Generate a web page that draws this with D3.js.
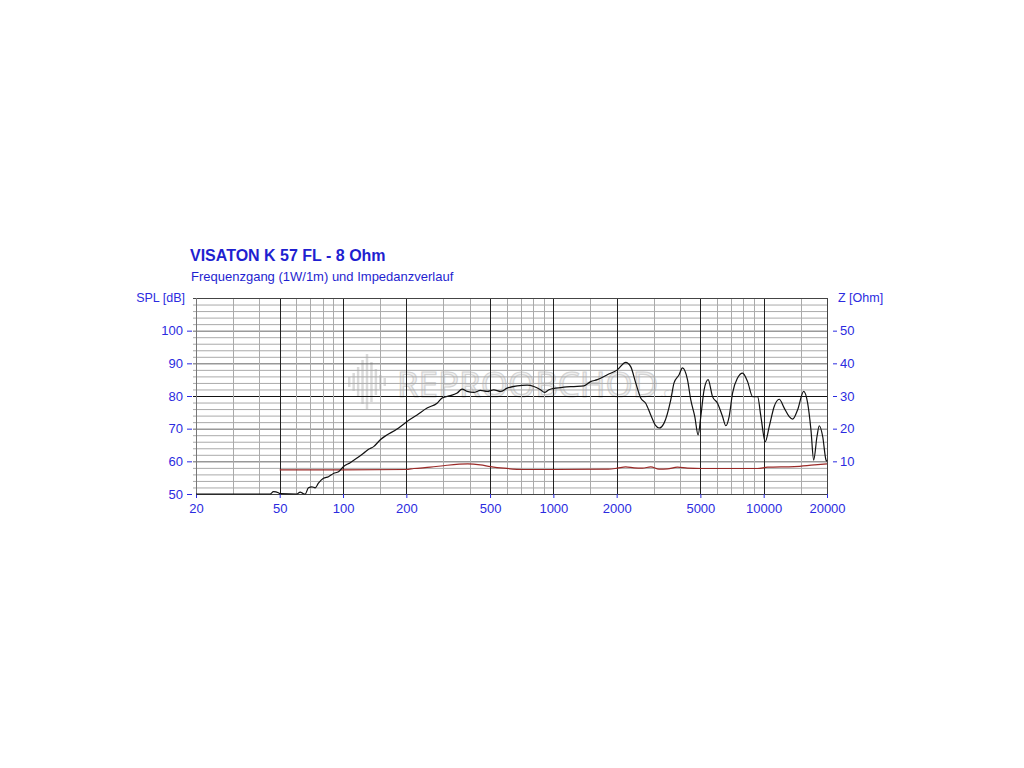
<!DOCTYPE html>
<html><head><meta charset="utf-8">
<script src="https://cdn.jsdelivr.net/npm/d3@7"></script>
<style>html,body{margin:0;padding:0;background:#fff;}svg{display:block;}</style>
</head><body>
<svg id="chart" width="1024" height="768"></svg>
<script>
const titleText = "VISATON K 57 FL - 8 Ohm";
const subtitleText = "Frequenzgang (1W/1m) und Impedanzverlauf";
const freqTicks = [20, 50, 100, 200, 500, 1000, 2000, 5000, 10000, 20000];
const freqMinor = [30, 40, 60, 70, 80, 90, 150, 300, 400, 600, 700, 800, 900, 1500, 3000, 4000, 6000, 7000, 8000, 9000, 15000];
const splTicks = [50, 60, 70, 80, 90, 100];
const zTicks = [10, 20, 30, 40, 50];

const splFreq = [20, 45, 46.7, 49.3, 50.4, 60.3, 62.6, 64.4, 66.1, 68.5, 71.1, 73.7, 76.4, 80.7, 85.3, 90.1, 95.2, 100.6, 108.2, 116.5, 125.2, 132.3, 139.8, 150.4, 183.8, 201.5, 225, 251, 280, 296, 324, 349, 368, 389, 418, 450, 485, 521, 561, 603, 673, 751, 808, 869, 908, 952, 1025, 1122, 1252, 1398, 1504, 1618, 1806, 2015, 2208, 2332, 2464, 2602, 2748, 2904, 3068, 3180, 3360, 3616, 3748, 3962, 4110, 4342, 4502, 4704, 4878, 5024, 5208, 5442, 5712, 6034, 6374, 6608, 6852, 7112, 7512, 7936, 8384, 8856, 9354, 9700, 10170, 10626, 11222, 11858, 12526, 13228, 13732, 14506, 15490, 16182, 16780, 17286, 17924, 18380, 19078, 19780, 20000];
const splValues = [50, 50, 50.7, 50.4, 50.1, 50, 50.6, 50.2, 50, 51.9, 52.2, 51.9, 53.3, 54.8, 55.3, 56.3, 56.8, 58.4, 59.6, 61.0, 62.5, 63.7, 64.5, 66.6, 70.2, 72.2, 74.2, 76.3, 77.8, 79.4, 80.1, 80.9, 82.1, 81.4, 81.1, 81.7, 81.4, 81.9, 81.4, 82.4, 83.1, 83.3, 82.9, 81.9, 81.1, 81.9, 82.4, 82.7, 82.9, 83.1, 84.4, 85.0, 86.5, 88.0, 90.3, 89.0, 84.0, 79.4, 77.8, 74.2, 70.9, 70.2, 71.7, 78.8, 84.0, 86.5, 88.6, 85.0, 78.8, 73.7, 68.1, 73.7, 81.9, 85.0, 79.8, 77.8, 73.7, 70.9, 73.7, 80.9, 85.5, 87.0, 84.4, 79.8, 79.8, 73.7, 66.0, 70.6, 76.8, 79.0, 76.3, 73.7, 72.9, 75.8, 81.4, 77.8, 69.6, 60.4, 67.6, 70.9, 67.6, 60.4, 60.0];

const zFreq = [50, 100, 200, 217, 260, 312, 392, 450, 502, 581, 724, 1000, 1829, 2015, 2208, 2418, 2652, 2904, 3180, 3487, 3891, 4342, 5024, 9354, 10441, 13978, 17396, 20000];
const zValues = [7.4, 7.4, 7.5, 7.8, 8.2, 8.8, 9.2, 8.9, 8.4, 7.9, 7.5, 7.5, 7.6, 7.9, 8.3, 8.0, 7.9, 8.3, 7.6, 7.7, 8.2, 7.9, 7.8, 7.8, 8.2, 8.4, 8.9, 9.2];

const watermarkBars = [10, 18, 30, 44, 56, 40, 26, 14, 8];

const svg = d3.select("#chart");
svg.append("rect").attr("width", 1024).attr("height", 768).attr("fill", "#fff");

const L = 196, R = 827, T = 298, B = 494;
const x = d3.scaleLog().domain([20, 20000]).range([L, R]);
const y = d3.scaleLinear().domain([50, 110]).range([B, T]);
const yZ = d3.scaleLinear().domain([0, 60]).range([B, T]);

const blue = "#2b2be0";
const font = "Arial, 'Liberation Sans', sans-serif";

// watermark
const wm = svg.append("g").attr("opacity", 0.9);
const barX = d3.scaleBand().domain(d3.range(watermarkBars.length)).range([346, 388]).padding(0.45);
wm.selectAll("rect").data(watermarkBars).join("rect")
  .attr("x", (d, i) => barX(i)).attr("width", barX.bandwidth())
  .attr("y", d => 382 - d / 2).attr("height", d => d)
  .attr("fill", "#d6d6d6");
const wmText = wm.append("text").attr("x", 397).attr("y", 397).attr("font-family", "'Open Sans', sans-serif");
wmText.append("tspan").attr("font-size", 35)
  .attr("fill", "#efefef").attr("stroke", "#cfcfcf").attr("stroke-width", 1.2)
  .text("REPROOBCHOD");
wmText.append("tspan").attr("font-size", 12).attr("dx", 2).attr("fill", "#d6d6d6").text(".cz");

// horizontal grid (every 2 dB)
const hLines = d3.range(52, 110, 2);
svg.append("g").selectAll("line").data(hLines).join("line")
  .attr("x1", L - 3).attr("x2", R).attr("y1", d => y(d) + 0.5).attr("y2", d => y(d) + 0.5)
  .attr("stroke", d => d === 80 ? "#111" : (d % 10 === 0 ? "#666" : "#aaaaaa"))
  .attr("stroke-width", 1);

// vertical grid
svg.append("g").selectAll("line").data(freqMinor).join("line")
  .attr("x1", d => Math.round(x(d)) + 0.5).attr("x2", d => Math.round(x(d)) + 0.5)
  .attr("y1", T).attr("y2", B).attr("stroke", "#aaaaaa");
svg.append("g").selectAll("line").data(freqTicks.slice(1, -1)).join("line")
  .attr("x1", d => Math.round(x(d)) + 0.5).attr("x2", d => Math.round(x(d)) + 0.5)
  .attr("y1", T).attr("y2", B).attr("stroke", "#222");

// frame
svg.append("line").attr("x1", L - 3).attr("x2", R).attr("y1", T + 0.5).attr("y2", T + 0.5).attr("stroke", "#444");
svg.append("line").attr("x1", L).attr("x2", R).attr("y1", B + 0.5).attr("y2", B + 0.5).attr("stroke", "#444");
svg.append("line").attr("x1", L + 0.5).attr("x2", L + 0.5).attr("y1", T).attr("y2", B).attr("stroke", "#777");
svg.append("line").attr("x1", R + 0.5).attr("x2", R + 0.5).attr("y1", T).attr("y2", B).attr("stroke", "#444");

// axes
const xAxis = d3.axisBottom(x).tickValues(freqTicks).tickFormat(d3.format("d")).tickSize(4).tickPadding(4);
const gx = svg.append("g").attr("transform", `translate(0,${B})`).call(xAxis);
gx.select(".domain").remove();
gx.selectAll("line").attr("stroke", blue);
gx.selectAll("text").attr("fill", blue).attr("font-size", 13).attr("font-family", font).attr("dy", "0.85em");

const yAxis = d3.axisLeft(y).tickValues(splTicks).tickSize(5).tickPadding(4);
const gy = svg.append("g").attr("transform", `translate(${L - 4},0)`).call(yAxis);
gy.select(".domain").remove();
gy.selectAll("line").attr("stroke", blue);
gy.selectAll("text").attr("fill", blue).attr("font-size", 13).attr("font-family", font);

const zAxis = d3.axisRight(yZ).tickValues(zTicks).tickSize(4).tickPadding(3);
const gz = svg.append("g").attr("transform", `translate(${R + 6},0)`).call(zAxis);
gz.select(".domain").remove();
gz.selectAll("line").attr("stroke", blue);
gz.selectAll("text").attr("fill", blue).attr("font-size", 13).attr("font-family", font);

// axis titles
svg.append("text").attr("x", 185).attr("y", 302).attr("text-anchor", "end")
  .attr("fill", blue).attr("font-size", 12.5).attr("font-family", font).text("SPL [dB]");
svg.append("text").attr("x", 838).attr("y", 302)
  .attr("fill", blue).attr("font-size", 12.5).attr("font-family", font).text("Z [Ohm]");

// titles
svg.append("text").attr("x", 190).attr("y", 261).attr("fill", "#1f1fd0")
  .attr("font-size", 16).attr("font-weight", "bold").attr("font-family", font).text(titleText);
svg.append("text").attr("x", 191).attr("y", 281).attr("fill", "#1f1fd0")
  .attr("font-size", 13).attr("font-family", font).text(subtitleText);

// curves
const zData = zFreq.map((f, i) => [f, zValues[i]]);
svg.append("path").datum(zData)
  .attr("d", d3.line().x(d => x(d[0])).y(d => yZ(d[1])).curve(d3.curveMonotoneX))
  .attr("fill", "none").attr("stroke", "#9a2a28").attr("stroke-width", 1.2);

const splData = splFreq.map((f, i) => [f, splValues[i]]);
svg.append("path").datum(splData)
  .attr("d", d3.line().x(d => x(d[0])).y(d => y(d[1])).curve(d3.curveMonotoneX))
  .attr("fill", "none").attr("stroke", "#111").attr("stroke-width", 1.2);
</script>
</body></html>
